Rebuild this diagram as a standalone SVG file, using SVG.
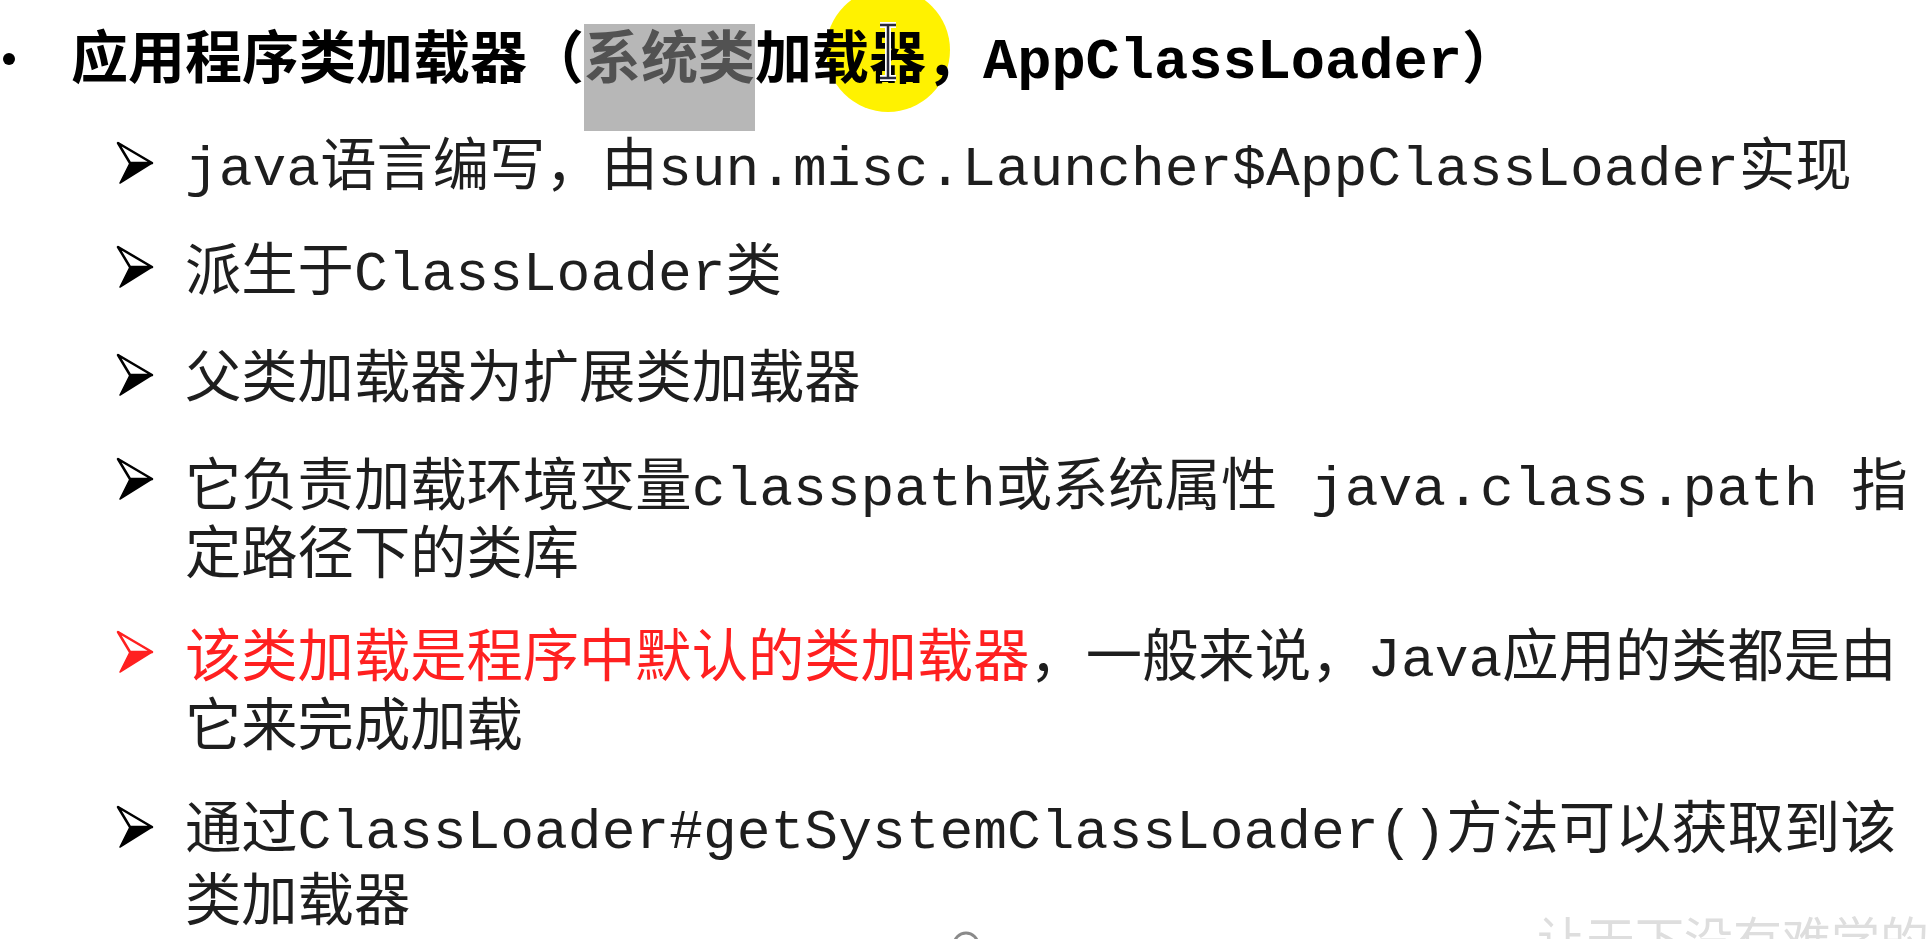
<svg xmlns="http://www.w3.org/2000/svg" width="1930" height="939" viewBox="0 0 1930 939">
<style>
.t{font-family:"Liberation Mono","Noto Sans CJK SC",monospace;font-size:56.3px;fill:#1e1e1e;}
.h{font-family:"Liberation Mono","Noto Sans CJK SC",monospace;font-size:57px;font-weight:bold;fill:#000;}
.red{fill:#ff2020;}
.hl{fill:#525252;}
.wm{font-family:"Noto Sans CJK SC",sans-serif;font-size:49px;fill:#dedede;}
</style>
<defs>
<g id="arrow">
<path d="M0,0 L34,20 L12,20 Z" fill="#fff" stroke="currentColor" stroke-width="2.5" stroke-linejoin="round"/>
<path d="M12,20 L34,20 L2,40 Z" fill="currentColor" stroke="currentColor" stroke-width="1.5" stroke-linejoin="round"/>
</g>
</defs>
<rect width="1930" height="939" fill="#fff"/>

<g id="title">
<circle cx="888" cy="50" r="62" fill="#fff200"/>
<rect x="584" y="24" width="171" height="107" fill="#b7b7b7"/>
<circle cx="9" cy="59" r="6" fill="#000"/>
<text class="h" x="71" y="78">应用程序类加载器（<tspan class="hl">系统类</tspan>加载器，AppClassLoader）</text>
<path d="M880,25 H896 M888,25 V78 M880,78 H896" stroke="#fff" stroke-width="6" fill="none"/>
<path d="M880,25 H896 M888,25 V78 M880,78 H896" stroke="#2a2a3a" stroke-width="2.5" fill="none"/>
</g>

<g id="item1">
<use href="#arrow" x="118" y="143" color="#000"/>
<text class="t" x="185" y="185">java语言编写，由sun.misc.Launcher$AppClassLoader实现</text>
</g>

<g id="item2">
<use href="#arrow" x="118" y="247" color="#000"/>
<text class="t" x="185" y="290">派生于ClassLoader类</text>
</g>

<g id="item3">
<use href="#arrow" x="118" y="355" color="#000"/>
<text class="t" x="185" y="397">父类加载器为扩展类加载器</text>
</g>

<g id="item4">
<use href="#arrow" x="118" y="459" color="#000"/>
<text class="t" x="185" y="505">它负责加载环境变量classpath或系统属性 java.class.path 指</text>
<text class="t" x="185" y="573">定路径下的类库</text>
</g>

<g id="item5">
<use href="#arrow" x="118" y="632" color="#ff2020"/>
<text class="t" x="185" y="676"><tspan class="red">该类加载是程序中默认的类加载器</tspan>，一般来说，Java应用的类都是由</text>
<text class="t" x="185" y="745">它来完成加载</text>
</g>

<g id="item6">
<use href="#arrow" x="118" y="807" color="#000"/>
<text class="t" x="185" y="848">通过ClassLoader#getSystemClassLoader()方法可以获取到该</text>
<text class="t" x="185" y="920">类加载器</text>
</g>

<g id="overlay">
<path d="M954,945 A12,12 0 0 1 978,945" stroke="#8a8a8a" stroke-width="3" fill="none"/>
<text class="wm" x="1537" y="958">让天下没有难学的</text>
</g>
</svg>
